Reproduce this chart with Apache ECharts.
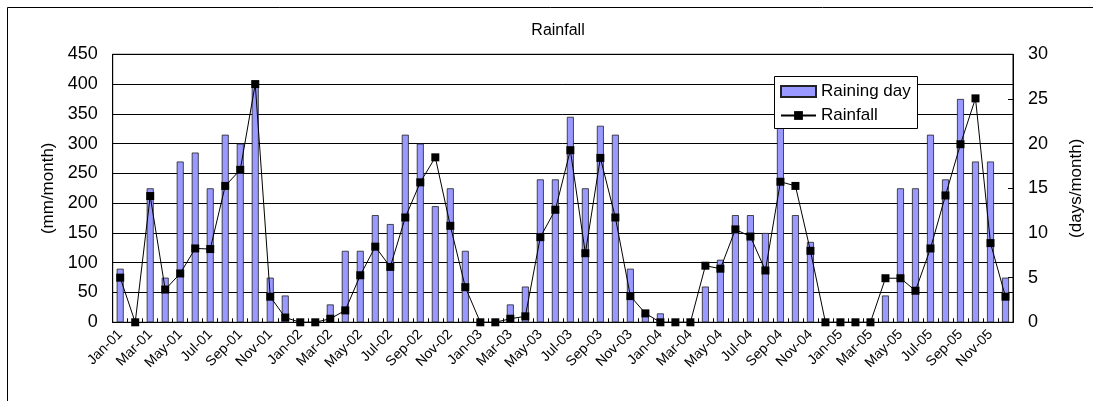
<!DOCTYPE html>
<html>
<head>
<meta charset="utf-8">
<script src="https://cdn.jsdelivr.net/npm/echarts@6/dist/echarts.min.js"></script>
<style>
html,body{margin:0;padding:0;background:#fff;}
#chart{width:1093px;height:401px;}
</style>
</head>
<body>
<div id="chart"></div>
<script>
const monthNames = ['Jan','Feb','Mar','Apr','May','Jun','Jul','Aug','Sep','Oct','Nov','Dec'];
const years = ['01','02','03','04','05'];
const categories = [];
years.forEach(y => monthNames.forEach(m => categories.push(m + '-' + y)));

// Raining day (days/month), right axis
const rainingDays = [
  6, 0, 15, 5, 18, 19, 15, 21, 20, 27, 5, 3,
  0, 0, 2, 8, 8, 12, 11, 21, 20, 13, 15, 8,
  0, 0, 2, 4, 16, 16, 23, 15, 22, 21, 6, 1,
  1, 0, 0, 4, 7, 12, 12, 10, 24, 12, 9, 0,
  0, 0, 0, 3, 15, 15, 21, 16, 25, 18, 18, 5
];
// Rainfall (mm/month), left axis
const rainfall = [
  75, 0, 212, 55, 82, 124, 123, 229, 256, 400, 43, 8,
  0, 0, 6, 20, 79, 127, 93, 176, 235, 277, 162, 59,
  0, 0, 6, 10, 143, 189, 289, 116, 276, 176, 44, 15,
  0, 0, 0, 95, 90, 156, 144, 87, 236, 229, 120, 0,
  0, 0, 0, 74, 74, 53, 124, 213, 299, 376, 133, 43
];

const FONT = "'Liberation Sans', Arial, sans-serif";
const chart = echarts.init(document.getElementById('chart'), null, {renderer: 'canvas'});
const option = {
  animation: false,
  backgroundColor: '#fff',
  textStyle: {fontFamily: FONT, color: '#000'},
  graphic: [{
    type: 'rect', silent: true, z: 0,
    shape: {x: 7.5, y: 7.5, width: 1100, height: 420},
    style: {fill: 'none', stroke: '#000', lineWidth: 1}
  }, {
    type: 'rect', silent: true, zlevel: 1, z: 0,
    shape: {x: 774.5, y: 76.5, width: 143, height: 52},
    style: {fill: '#fff', stroke: '#000', lineWidth: 1}
  }],
  title: {
    text: 'Rainfall', left: 553, top: 18, textAlign: 'center',
    textStyle: {fontSize: 16, fontWeight: 'normal', color: '#000', fontFamily: FONT}
  },
  legend: {
    orient: 'vertical', left: 774, top: 76, zlevel: 1, z: 20,
    itemWidth: 35, itemHeight: 11, itemGap: 7,
    padding: [7, 5, 7, 6],
    textStyle: {fontSize: 17, color: '#000', fontFamily: FONT},
    data: [{name: 'Raining day', icon: 'rect'}, {name: 'Rainfall'}]
  },
  grid: {
    left: 112.7, right: 79.7, top: 54.3, bottom: 78.7,
    show: true, borderColor: '#000', borderWidth: 1, backgroundColor: 'transparent'
  },
  xAxis: {
    type: 'category', data: categories, boundaryGap: true,
    axisLine: {lineStyle: {color: '#000', width: 1}},
    axisTick: {show: true, inside: true, length: 4, interval: 0, lineStyle: {color: '#000'}},
    axisLabel: {interval: 1, rotate: 45, fontSize: 14, color: '#000', margin: 10, fontFamily: FONT},
    splitLine: {show: false}
  },
  yAxis: [{
    type: 'value', min: 0, max: 450, interval: 50,
    name: '(mm/month)', nameLocation: 'middle', nameGap: 56, nameRotate: 90,
    nameTextStyle: {fontSize: 17, color: '#000', fontFamily: FONT},
    axisLine: {show: true, lineStyle: {color: '#000'}},
    axisTick: {show: true, inside: true, length: 5, lineStyle: {color: '#000'}},
    axisLabel: {fontSize: 18, color: '#000', margin: 15, fontFamily: FONT},
    splitLine: {show: true, lineStyle: {color: '#000', width: 1}}
  }, {
    type: 'value', min: 0, max: 30, interval: 5, position: 'right',
    name: '(days/month)', nameLocation: 'middle', nameGap: 55, nameRotate: 90,
    nameTextStyle: {fontSize: 17, color: '#000', fontFamily: FONT},
    axisLine: {show: true, lineStyle: {color: '#000'}},
    axisTick: {show: true, inside: true, length: 5, lineStyle: {color: '#000'}},
    axisLabel: {fontSize: 18, color: '#000', margin: 15, fontFamily: FONT},
    splitLine: {show: false}
  }],
  series: [{
    name: 'Raining day', type: 'bar', yAxisIndex: 1, data: rainingDays,
    barWidth: 7, z: 2,
    itemStyle: {color: '#9999FF', borderColor: '#222', borderWidth: 0.8}
  }, {
    name: 'Rainfall', type: 'line', yAxisIndex: 0, data: rainfall,
    symbol: 'rect', symbolSize: 8, showAllSymbol: true,
    lineStyle: {color: '#000', width: 1},
    itemStyle: {color: '#000'},
    z: 3
  }]
};
chart.setOption(option);
</script>
</body>
</html>
